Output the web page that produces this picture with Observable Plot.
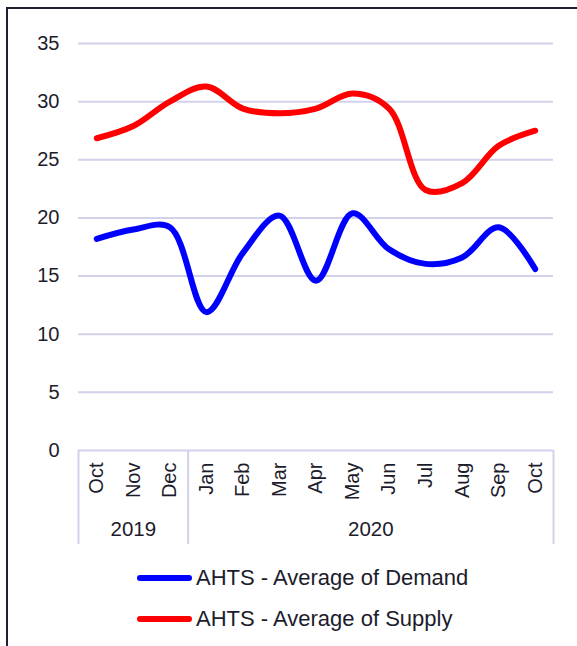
<!DOCTYPE html>
<html>
<head>
<meta charset="utf-8">
<script src="https://cdn.jsdelivr.net/npm/d3@7"></script>
<script src="https://cdn.jsdelivr.net/npm/@observablehq/plot@0.6"></script>
<style>
  html, body { margin: 0; padding: 0; background: #fff; overflow: hidden; }
  body { width: 577px; height: 646px; position: relative; font-family: "Liberation Sans", Arial, sans-serif; }
  #frame { position: absolute; left: 6px; top: 7px; width: 600px; height: 700px;
           border-left: 2px solid #1f1f30; border-top: 2px solid #1f1f30; pointer-events: none; }
  #chart { position: absolute; left: 0; top: 0; }
  #legend { position: absolute; left: 137px; top: 557px; color: #1c1c2c; font-size: 22px; }
  .row { display: flex; align-items: center; height: 41px; }
  .sw { width: 55px; height: 6px; border-radius: 3px; margin-right: 4px; }
</style>
</head>
<body>
<div id="chart"></div>
<div id="legend"></div>
<div id="frame"></div>
<script>
const months = ["Oct","Nov","Dec","Jan","Feb","Mar","Apr","May","Jun","Jul","Aug","Sep","Oct"];
const yearLabels = ["2019","2020"];
const yearStart = [0, 3];
const yearEnd = [2, 12];
const demand = [18.2, 19.0, 19.2, 11.9, 17.0, 20.2, 14.6, 20.4, 17.3, 16.05, 16.6, 19.2, 15.6];
const supply = [26.85, 27.9, 30.0, 31.3, 29.4, 29.0, 29.4, 30.7, 29.4, 22.4, 23.0, 26.2, 27.5];
const yTicks = [0, 5, 10, 15, 20, 25, 30, 35];
const seriesNames = ["AHTS - Average of Demand", "AHTS - Average of Supply"];
const seriesColors = ["#0000ff", "#ff0000"];

const idx = months.map((_, i) => i);
const demandData = idx.map(i => ({i, v: demand[i]}));
const supplyData = idx.map(i => ({i, v: supply[i]}));
const bounds = [yearStart[0] - 0.5, ...yearEnd.map(e => e + 0.5)];
const years = yearLabels.map((t, k) => ({t, c: (yearStart[k] + yearEnd[k]) / 2}));

const gridColor = "#d2d2ec";
const textColor = "#1c1c2c";

const chart = Plot.plot({
  width: 577,
  height: 552,
  marginLeft: 78,
  marginRight: 24,
  marginTop: 43,
  marginBottom: 102,
  style: {fontFamily: "'Liberation Sans', Arial, sans-serif", fontSize: "20px", color: textColor, background: "transparent", overflow: "visible"},
  x: {type: "linear", domain: [-0.5, 12.5], axis: null},
  y: {domain: [0, 35], axis: null},
  marks: [
    Plot.gridY(yTicks, {stroke: gridColor, strokeOpacity: 1, strokeWidth: 2}),
    Plot.ruleX(bounds, {y1: 0, y2: -8.1, stroke: gridColor, strokeWidth: 2}),
    Plot.axisY(yTicks, {tickSize: 0, tickPadding: 19, fontSize: 20, fill: textColor, label: null}),
    Plot.axisX(idx, {tickSize: 0, tickPadding: 12, tickRotate: -90, tickFormat: i => months[i], fontSize: 20, fill: textColor, label: null}),
    Plot.text(years, {x: "c", y: -6.8, text: "t", fontSize: 20.5, fill: textColor}),
    Plot.line(supplyData, {x: "i", y: "v", stroke: seriesColors[1], strokeWidth: 6, curve: "catmull-rom", strokeLinecap: "round", strokeLinejoin: "round"}),
    Plot.line(demandData, {x: "i", y: "v", stroke: seriesColors[0], strokeWidth: 6, curve: "catmull-rom", strokeLinecap: "round", strokeLinejoin: "round"})
  ]
});
document.getElementById("chart").appendChild(chart);

const legend = document.getElementById("legend");
seriesNames.forEach((n, k) => {
  const row = document.createElement("div");
  row.className = "row";
  const sw = document.createElement("div");
  sw.className = "sw";
  sw.style.background = seriesColors[k];
  const t = document.createElement("span");
  t.textContent = n;
  row.appendChild(sw);
  row.appendChild(t);
  legend.appendChild(row);
});
</script>
</body>
</html>
